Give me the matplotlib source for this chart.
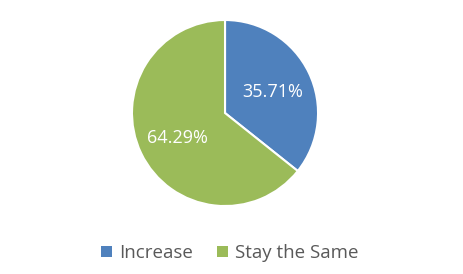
import matplotlib
matplotlib.use("Agg")
from matplotlib import pyplot as plt
from matplotlib.patches import Patch

labels = ["Increase", "Stay the Same"]
values = [35.71, 64.29]
colors = ["#4F81BD", "#9BBB59"]

plt.rcParams['font.family'] = ['Open Sans', 'DejaVu Sans']

fig = plt.figure(figsize=(4.63, 2.74), dpi=100)
ax = fig.add_axes([0.285, 0.248, 0.402, 0.679])

wedges, texts, autotexts = ax.pie(
    values, colors=colors, startangle=90, counterclock=False,
    autopct="%.2f%%", pctdistance=0.57,
    wedgeprops=dict(edgecolor="white", linewidth=1.5),
    textprops=dict(color="white", fontsize=13, va="center_baseline"))
ax.set_xlim(-1.0, 1.0)
ax.set_ylim(-1.0, 1.0)
ax.set_aspect("equal")

handles = [Patch(facecolor=c, edgecolor="none", label=l) for c, l in zip(colors, labels)]
fig.legend(handles=handles, loc="center", bbox_to_anchor=(0.497, 0.075), ncol=2,
           frameon=False, fontsize=13.5, labelcolor="#595959",
           handlelength=0.55, handleheight=0.55, handletextpad=0.4, columnspacing=1.3)

fig.savefig("out.png", dpi=100)
